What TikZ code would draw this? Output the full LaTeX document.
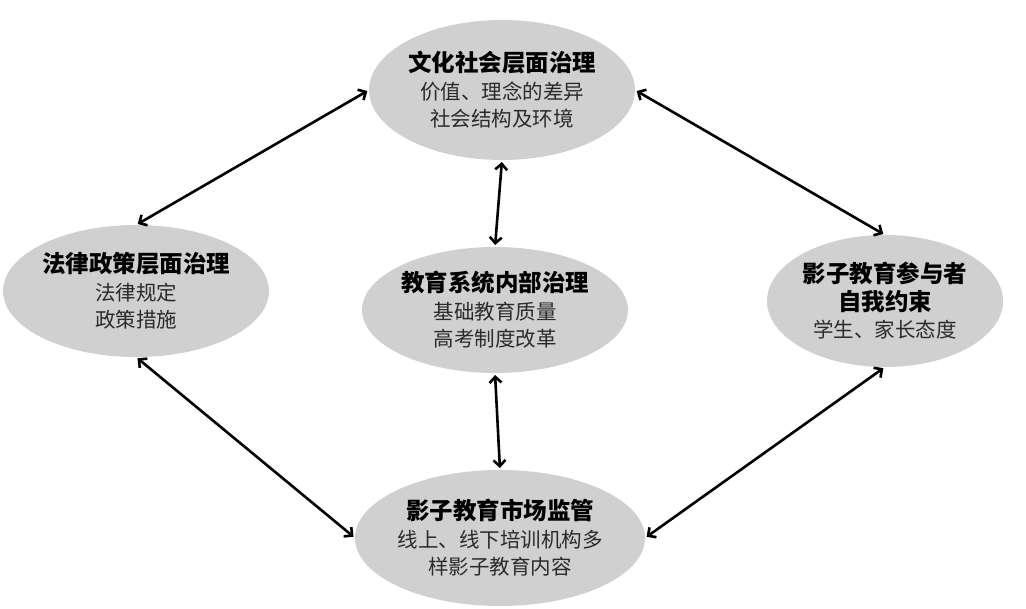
\documentclass[tikz,border=0pt]{standalone}
\usepackage{fontspec}
\setmainfont{Noto Sans CJK SC}
\usetikzlibrary{arrows.meta,shapes.geometric}
\definecolor{ellfill}{HTML}{D0D0D0}
\definecolor{subtxt}{HTML}{2A2A2A}
\tikzset{
  ell/.style={ellipse, fill=ellfill, draw=none, inner sep=0pt, outer sep=0pt, align=center, text=subtxt, font=\fontsize{20.5}{27.5}\selectfont},
  link/.style={line width=2.6pt, {Straight Barb[length=6pt,width=12pt]}-{Straight Barb[length=6pt,width=12pt]}, shorten <=2pt, shorten >=2pt},
}
\newcommand{\ttl}[1]{{\color{black}\fontsize{23.5}{28}\selectfont\bfseries #1}}
\begin{document}
\begin{tikzpicture}[x=1pt,y=-1pt]
\useasboundingbox (0,0) rectangle (1026,609);
\node[ell, minimum width=230pt, minimum height=140pt] (top) at (502,90) {\ttl{文化社会层面治理}\\价值、理念的差异\\社会结构及环境};
\node[ell, minimum width=236pt, minimum height=132pt] (left) at (136,291) {\ttl{法律政策层面治理}\\法律规定\\政策措施};
\node[ell, minimum width=236pt, minimum height=132pt] (right) at (885,301) {\ttl{影子教育参与者}\\\ttl{自我约束}\\学生、家长态度};
\node[ell, minimum width=244pt, minimum height=126pt] (mid) at (495,310) {\ttl{教育系统内部治理}\\基础教育质量\\高考制度改革};
\node[ell, minimum width=252pt, minimum height=136pt] (bot) at (500,538) {\ttl{影子教育市场监管}\\线上、线下培训机构多\\样影子教育内容};
\draw[link] (top.west) -- (left.north);
\draw[link] (top.east) -- (right.north);
\draw[link] (top.south) -- (mid.north);
\draw[link] (mid.south) -- (bot.north);
\draw[link] (left.south) -- (bot.west);
\draw[link] (right.south) -- (bot.east);
\end{tikzpicture}
\end{document}
